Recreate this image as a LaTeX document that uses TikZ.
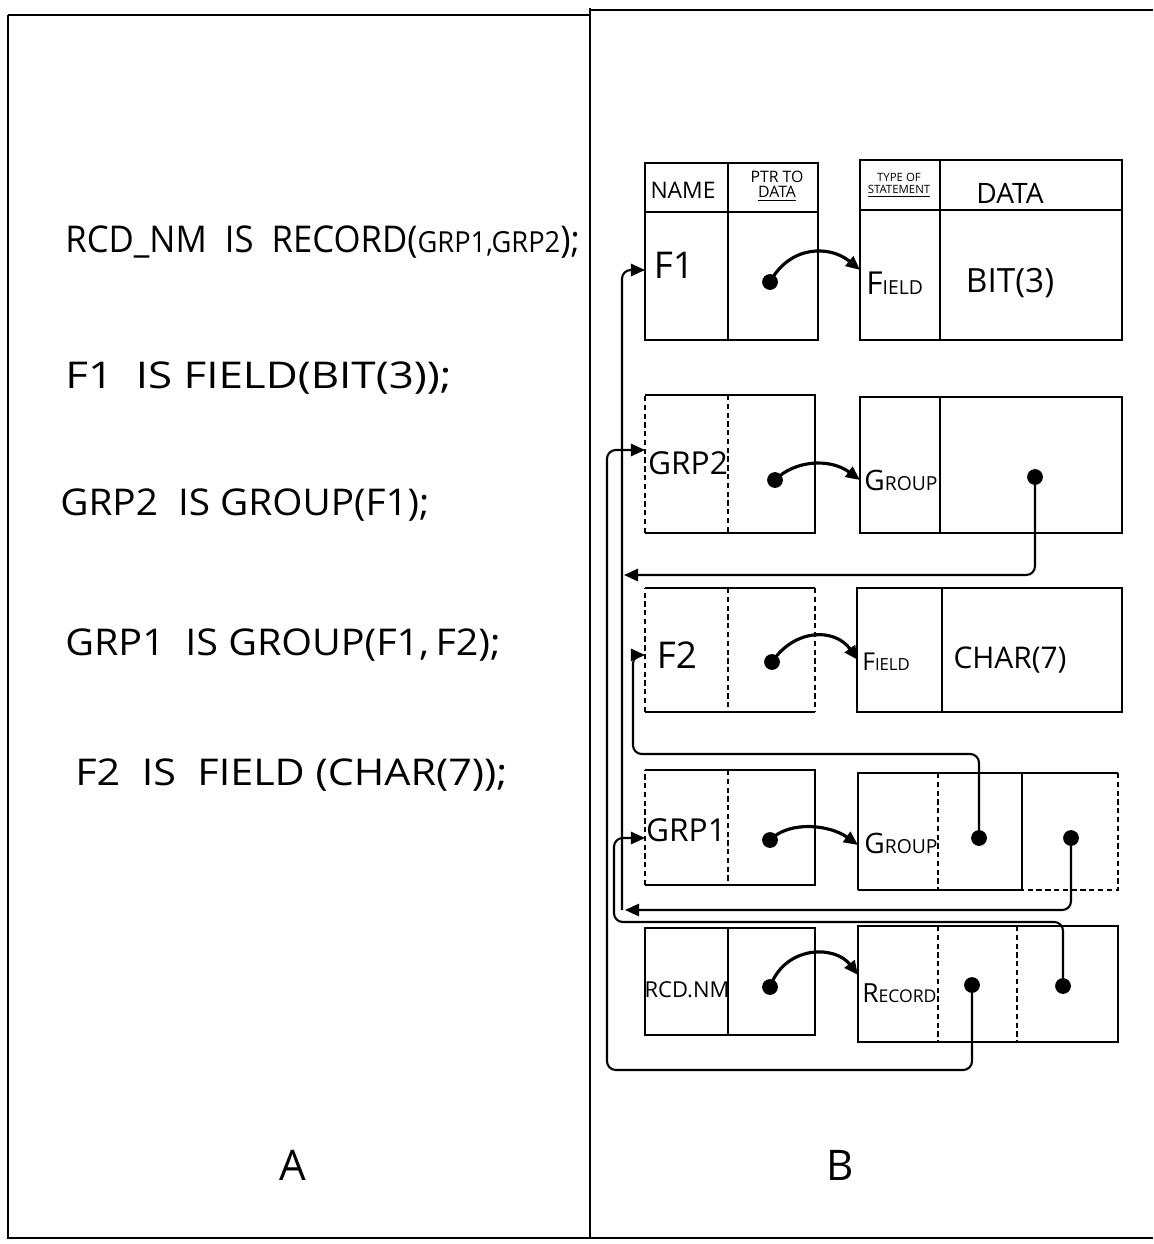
\documentclass[tikz,border=0pt]{standalone}
\usepackage{fontspec}
\usepackage{graphicx}
\setmainfont{Open Sans}
\usetikzlibrary{arrows.meta}
\begin{document}
\begin{tikzpicture}[x=0.02cm,y=-0.02cm,
  frame/.style={line width=0.8pt},
  cell/.style={line width=1.3pt},
  faint/.style={line width=0.9pt, densely dashed},
  link/.style={line width=1.2pt, rounded corners=5pt, -{Triangle[length=8pt,width=7pt]}},
  ptr/.style={line width=1.8pt, -{Triangle[length=8pt,width=7pt]}},
  dotn/.style={circle, fill=black, inner sep=0pt, minimum size=9pt},
  code/.style={font=\fontsize{21}{24}\selectfont, anchor=west, inner sep=0pt},
  lbl/.style={font=\fontsize{19}{22}\selectfont, inner sep=0pt},
  kind/.style={inner sep=0pt, anchor=west},
  big/.style={font=\fontsize{24}{28}\selectfont, inner sep=0pt}]
\useasboundingbox (0,0) rectangle (1153,1244);
% outer frame
\draw[frame] (8,15) -- (590,15);
\draw[frame] (590,10) -- (1153,10);
\draw[frame] (8,15) -- (8,1238) -- (1153,1238);
\draw[frame] (590,8) -- (590,1238);
% left column: statements
\node[code] (s1) at (65,242) {\scalebox{0.94}[1]{RCD\_NM\ \ IS\ \ RECORD({\fontsize{16.5}{19}\selectfont GRP1,GRP2});}};
\node[code] (s2) at (65,378) {\scalebox{1.19}[1]{F1\ \ IS FIELD(BIT(3));}};
\node[code] (s3) at (60,505) {\scalebox{1.05}[1]{GRP2\ \ IS GROUP(F1);}};
\node[code] (s4) at (65,645) {\scalebox{1.07}[1]{GRP1\ \ IS GROUP(F1,\,F2);}};
\node[code] (s5) at (75,775) {\scalebox{1.12}[1]{F2\ \ IS\ \ FIELD (CHAR(7));}};
\node[big] (A) at (293,1165) {A};
\node[big] (B) at (840,1165) {B};
% ---------- row 1 : F1 ----------
\draw[cell] (645,163) rectangle (818,340);
\draw[cell] (645,212) -- (818,212);
\draw[cell] (728,163) -- (728,340);
\draw[cell] (860,160) rectangle (1122,340);
\draw[cell] (860,210) -- (1122,210);
\draw[cell] (940,160) -- (940,340);
\node[inner sep=0pt,font=\fontsize{13}{15}\selectfont] (hname) at (683,190) {NAME};
\node[inner sep=0pt,font=\fontsize{9}{10}\selectfont,align=center] (hptr) at (777,186) {PTR TO\\[-1pt]\underline{DATA}};
\node[inner sep=0pt,font=\fontsize{6.5}{7}\selectfont,align=center] (htype) at (899,185) {TYPE OF\\\underline{STATEMENT}};
\node[inner sep=0pt,font=\fontsize{16}{19}\selectfont] (hdata) at (1010,193) {DATA};
\node[lbl,font=\fontsize{21}{24}\selectfont] (nF1t) at (674,265) {F1};
\node[kind] (k1) at (866,283) {{\fontsize{18}{20}\selectfont F}{\fontsize{11}{13}\selectfont IELD}};
\node[lbl] (d1) at (1010,283) {BIT(3)};
% ---------- row 2 : GRP2 ----------
\draw[faint] (645,533) -- (645,395);
\draw[cell] (645,395) -- (815,395) -- (815,533) -- (645,533);
\draw[faint] (728,395) -- (728,533);
\draw[cell] (860,397) rectangle (1122,533);
\draw[cell] (940,397) -- (940,533);
\node[lbl,font=\fontsize{18}{21}\selectfont] (nGRP2t) at (688,463) {GRP2};
\node[kind] (k2) at (864,480) {{\fontsize{16}{19}\selectfont G}{\fontsize{11}{13}\selectfont ROUP}};
% ---------- row 3 : F2 ----------
\draw[faint] (645,712) -- (645,588);
\draw[cell] (645,588) -- (815,588);
\draw[faint] (815,588) -- (815,712);
\draw[cell] (815,712) -- (645,712);
\draw[faint] (728,588) -- (728,712);
\draw[cell] (857,588) rectangle (1122,712);
\draw[cell] (942,588) -- (942,712);
\node[lbl,font=\fontsize{21}{24}\selectfont] (nF2t) at (677,655) {F2};
\node[kind] (k3) at (862,662) {{\fontsize{14}{16}\selectfont F}{\fontsize{9.5}{11}\selectfont IELD}};
\node[lbl,font=\fontsize{17}{20}\selectfont] (d3) at (1010,660) {CHAR(7)};
% ---------- row 4 : GRP1 ----------
\draw[faint] (645,885) -- (645,770);
\draw[cell] (645,770) -- (815,770) -- (815,885) -- (645,885);
\draw[faint] (728,770) -- (728,885);
\draw[cell] (858,890) -- (858,773) -- (1118,773);
\draw[faint] (1118,773) -- (1118,890) -- (1022,890);
\draw[cell] (1022,890) -- (858,890);
\draw[faint] (938,773) -- (938,890);
\draw[cell] (1022,773) -- (1022,890);
\node[lbl,font=\fontsize{18}{21}\selectfont] (nGRP1t) at (686,830) {GRP1};
\node[kind] (k4) at (864,843) {{\fontsize{16}{19}\selectfont G}{\fontsize{11}{13}\selectfont ROUP}};
% ---------- row 5 : RCD.NM ----------
\draw[cell] (645,928) rectangle (815,1035);
\draw[cell] (728,928) -- (728,1035);
\draw[cell] (858,926) rectangle (1118,1042);
\draw[faint] (938,926) -- (938,1042);
\draw[faint] (1017,926) -- (1017,1042);
\node[lbl,font=\fontsize{12.5}{15}\selectfont] (nRCDt) at (687,990) {RCD.NM};
\node[kind] (k5) at (862,993) {{\fontsize{15}{18}\selectfont R}{\fontsize{10}{12}\selectfont ECORD}};
% ---------- pointer dots ----------
\node[dotn] (p1) at (770,282) {};
\node[dotn] (p2) at (775,480) {};
\node[dotn] (p3) at (772,662) {};
\node[dotn] (p4) at (770,840) {};
\node[dotn] (p5) at (770,987) {};
\node[dotn] (g2d) at (1035,477) {};
\node[dotn] (g1a) at (979,838) {};
\node[dotn] (g1b) at (1071,838) {};
\node[dotn] (r1) at (972,985) {};
\node[dotn] (r2) at (1063,986) {};
% ---------- target coordinates ----------
\coordinate (t1) at (860,270);
\coordinate (t2) at (860,480);
\coordinate (t3) at (858,660);
\coordinate (t4) at (858,845);
\coordinate (t5) at (858,975);
\coordinate (nF1) at (645,270);
\coordinate (nGRP2) at (645,450);
\coordinate (nF2) at (645,655);
\coordinate (nGRP1) at (645,838);
\coordinate (L1b) at (622,910);
\coordinate (L1e) at (625,910);
\coordinate (j2) at (624,575);
\coordinate (b0) at (607,1070);
\coordinate (f2c) at (633,754);
\coordinate (g1c) at (614,922);
% ---------- curved pointers to type of statement ----------
\draw[ptr] (p1.center) .. controls (790,245) and (830,245) .. (t1);
\draw[ptr] (p2.center) .. controls (795,460) and (830,458) .. (t2);
\draw[ptr] (p3.center) .. controls (795,628) and (835,628) .. (t3);
\draw[ptr] (p4.center) .. controls (790,820) and (830,825) .. (t4);
\draw[ptr] (p5.center) .. controls (785,945) and (835,945) .. (t5);
% ---------- link lines ----------
\draw[link] (L1b) |- (nF1);
\draw[link] (g2d.center) |- (j2);
\draw[link] (r1.center) |- (b0) |- (nGRP2);
\draw[link] (g1a.center) |- (f2c) |- (nF2);
\draw[link] (g1b.center) |- (L1e);
\draw[link] (r2.center) |- (g1c) |- (nGRP1);
\end{tikzpicture}
\end{document}
